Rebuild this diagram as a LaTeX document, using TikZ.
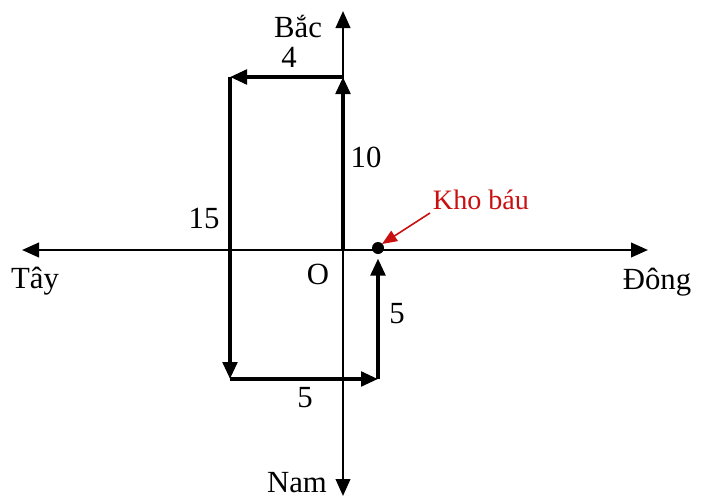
\documentclass[tikz,border=0pt]{standalone}
\usepackage{fontspec}
\setmainfont{Liberation Serif}
\usepackage{xcolor}
\usetikzlibrary{arrows.meta,positioning}
\definecolor{treasurered}{RGB}{200,16,16}

\begin{document}
\begin{tikzpicture}[x=0.2mm, y=-0.2mm,
  axis/.style={line width=1.4pt, draw=black, -{Triangle[length=3.4mm, width=2.9mm]}},
  route/.style={line width=2.1pt, draw=black, -{Triangle[length=3.4mm, width=2.9mm]}},
  lbl/.style={font=\fontsize{17.5}{20}\selectfont, inner sep=1pt},
  redlbl/.style={lbl, text=treasurered, font=\fontsize{16}{18}\selectfont},
  pointer/.style={line width=0.9pt, draw=treasurered, -{Triangle[length=3mm, width=2.4mm]}}
]
\useasboundingbox (0,0) rectangle (701,500);

% axes
\coordinate (O) at (343,250);
\coordinate (W) at (22,250);
\coordinate (E) at (648,250);
\coordinate (N) at (343,11);
\coordinate (S) at (343,496);
\draw[axis] (O) -- (W);
\draw[axis] (O) -- (E);
\draw[axis] (O) -- (N);
\draw[axis] (O) -- (S);

% route corners
\coordinate (A) at (343,77);
\coordinate (B) at (230,77);
\coordinate (C) at (230,379);
\coordinate (D) at (378,379);
\coordinate (T) at (378,248);
\draw[route] (O) -- (A);
\draw[route] (A) -- (B);
\draw[route] (B) -- (C);
\draw[route] (C) -- (D);
\draw[route, shorten >=6pt] (D) -- (T);
\fill (T) circle (6);

% labels
\node[lbl] (north) at (298,27) {Bắc};
\node[lbl] (south) at (297,483) {Nam};
\node[lbl] (west) at (35,281) {Tây};
\node[lbl] (east) at (657,282) {Đông};
\node[lbl] (origin) at (318,274) {O};
\node[lbl] (l4) at (289,57) {4};
\node[lbl] (l10) at (366,157) {10};
\node[lbl] (l15) at (204,218) {15};
\node[lbl] (l5a) at (397,314) {5};
\node[lbl] (l5b) at (305,398) {5};
\node[redlbl] (treasure) at (481,200) {Kho báu};
\coordinate (tail) at (430,213);
\draw[pointer] (tail) -- ([shift={(4,-4)}]T);
\end{tikzpicture}
\end{document}
